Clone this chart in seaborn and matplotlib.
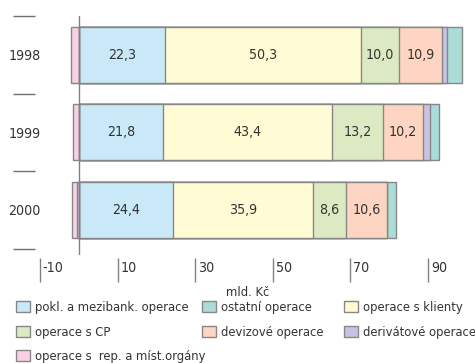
import numpy as np
import matplotlib
matplotlib.use("Agg")
import matplotlib.pyplot as plt
from matplotlib.patches import Patch
import seaborn as sns

# data, mld. Kč
years = ['1998', '1999', '2000']
pokl = [22.3, 21.8, 24.4]
klienty = [50.3, 43.4, 35.9]
cp = [10.0, 13.2, 8.6]
deviz = [10.9, 10.2, 10.6]
deriv = [1.5, 1.8, -0.4]
ostatni = [3.7, 2.3, 2.3]
rep = [-2.0, -1.5, -1.3]

x_ticks = [-10, 10, 30, 50, 70, 90]

names = ['pokl. a mezibank. operace', 'operace s klienty', 'operace s CP',
         'devizové operace', 'derivátové operace', 'ostatní operace',
         'operace s  rep. a míst.orgány']
colors = ['#c9e9f9', '#fffbd5', '#dce9c3', '#fdd5c2', '#c7c3e3', '#aadcd8',
          '#f9d0e4']
series = [pokl, klienty, cp, deviz, deriv, ostatni, rep]

sns.set_style('white')
plt.rcParams['font.family'] = ['DejaVu Sans']
plt.rcParams['font.stretch'] = 'condensed'
TXT = '#333333'
EDGE = '#878787'
FS = 10.2
LFS = 9.3

W, H = 475, 363
fig = plt.figure(figsize=(W / 100, H / 100), dpi=100)
ax = fig.add_axes([45 / W, 1 - 255 / H, 425 / W, 239 / H])

# stack positives left to right, negatives to the left of zero
vals = np.array(series, dtype=float)
pos = np.clip(vals, 0, None)
neg = np.clip(vals, None, 0)
pos_cum = np.cumsum(pos, axis=0)
neg_order = [4, 6]  # derivative (negative) sits next to zero, then rep.
neg_cum = {}
acc = np.zeros(len(years))
for i in neg_order:
    acc = acc + neg[i]
    neg_cum[i] = acc.copy()

# draw longest first so shorter bars sit on top
for i in reversed(range(6)):
    sns.barplot(x=pos_cum[i], y=years, orient='h', color=colors[i],
                saturation=1, edgecolor=EDGE, linewidth=1, width=0.72, ax=ax)
for i in reversed(neg_order):
    sns.barplot(x=neg_cum[i], y=years, orient='h', color=colors[i],
                saturation=1, edgecolor=EDGE, linewidth=1, width=0.72, ax=ax)

# value labels
for i in range(4):
    starts = pos_cum[i] - pos[i]
    for j, v in enumerate(series[i]):
        ax.text(starts[j] + v / 2, j, f'{v:.1f}'.replace('.', ','),
                ha='center', va='center', fontsize=FS, color=TXT)

ax.set_xlim(-8.7, 100.8)
ax.set_ylim(2.58, -0.5)
ax.set_xlabel('')
ax.set_ylabel('')
for s in ax.spines.values():
    s.set_visible(False)
ax.axvline(0, color='#808080', lw=1, zorder=5)

# y labels and separators
ax.tick_params(axis='y', left=False, length=0, pad=3, labelsize=FS,
               labelcolor=TXT)
ax.hlines([-0.5, 0.5, 1.5, 2.5], -0.075, -0.0235, color='#707070', lw=1,
          transform=ax.get_yaxis_transform(), clip_on=False)

# x ticks drawn as marks with labels to their right
ax.set_xticks([])
tr = ax.get_xaxis_transform()
ax.vlines(x_ticks, -0.0126, -0.112, color='#808080', lw=1, transform=tr,
          clip_on=False)
for t in x_ticks:
    ax.text(t + 0.7, -0.055, str(t), ha='left', va='center', fontsize=FS,
            color=TXT, transform=tr, clip_on=False)

fig.text(248 / W, 1 - 292 / H, 'mld. Kč', ha='center', va='center',
         fontsize=LFS, color=TXT)

# legend, three columns
cols = [([0, 2, 6], 16), ([5, 3], 202), ([1, 4], 344)]
for idx, xpix in cols:
    handles = [Patch(facecolor=colors[i], edgecolor=EDGE, lw=1, label=names[i])
               for i in idx]
    fig.legend(handles=handles, loc='upper left',
               bbox_to_anchor=(xpix / W, 1 - 301 / H), frameon=False,
               fontsize=LFS, labelcolor=TXT, borderpad=0, borderaxespad=0,
               handlelength=1.1, handleheight=0.92, handletextpad=0.4,
               labelspacing=0.9)

fig.savefig('out.png', dpi=100)
